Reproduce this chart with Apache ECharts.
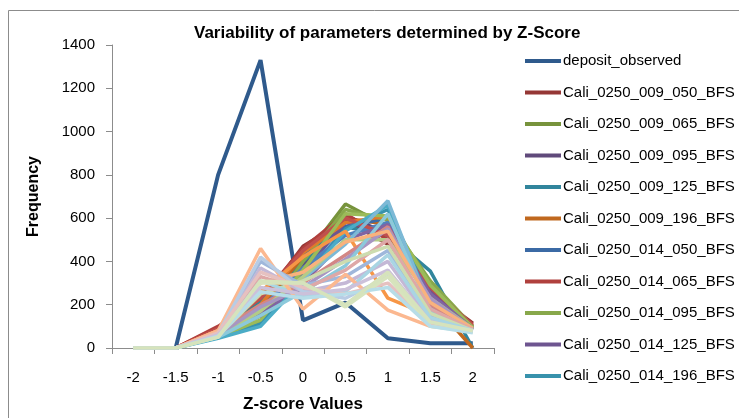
<!DOCTYPE html>
<html>
<head>
<meta charset="utf-8">
<script src="https://cdn.jsdelivr.net/npm/echarts@6/dist/echarts.min.js"></script>
<style>
html,body{margin:0;padding:0;background:#fff;}
#c{width:739px;height:418px;}
</style>
</head>
<body>
<div id="c"></div>
<script>
var categories = ['-2','-1.5','-1','-0.5','0','0.5','1','1.5','2'];
var yTicks = [0,200,400,600,800,1000,1200,1400];

var seriesNames = [
  'deposit_observed',
  'Cali_0250_009_050_BFS','Cali_0250_009_065_BFS','Cali_0250_009_095_BFS','Cali_0250_009_125_BFS','Cali_0250_009_196_BFS',
  'Cali_0250_014_050_BFS','Cali_0250_014_065_BFS','Cali_0250_014_095_BFS','Cali_0250_014_125_BFS','Cali_0250_014_196_BFS',
  'Cali_0250_019_050_BFS','Cali_0250_019_065_BFS','Cali_0250_019_095_BFS','Cali_0250_019_125_BFS','Cali_0250_019_196_BFS',
  'Cali_0250_024_050_BFS','Cali_0250_024_065_BFS','Cali_0250_024_095_BFS','Cali_0250_024_125_BFS','Cali_0250_024_196_BFS',
  'Cali_0250_029_050_BFS','Cali_0250_029_065_BFS','Cali_0250_029_095_BFS','Cali_0250_029_125_BFS','Cali_0250_029_196_BFS',
  'Cali_0250_034_050_BFS','Cali_0250_034_065_BFS','Cali_0250_034_095_BFS','Cali_0250_034_125_BFS','Cali_0250_034_196_BFS',
  'Cali_0250_039_050_BFS','Cali_0250_039_065_BFS','Cali_0250_039_095_BFS','Cali_0250_039_125_BFS','Cali_0250_039_196_BFS'
];

var deposit_observed = [0,0,800,1330,128,210,45,22,22];
var cali_009_050 = [0,0,95,210,470,590,480,260,115];
var cali_009_065 = [0,0,55,150,410,665,560,300,100];
var cali_009_095 = [0,0,65,170,380,610,530,270,95];
var cali_009_125 = [0,0,60,220,400,560,520,355,0];
var cali_009_196 = [0,0,85,190,420,600,570,220,0];
var cali_014_050 = [0,0,70,240,430,560,600,290,90];
var cali_014_065 = [0,0,100,230,460,620,500,250,110];
var cali_014_095 = [0,0,50,120,400,640,590,310,100];
var cali_014_125 = [0,0,60,160,350,580,540,260,90];
var cali_014_196 = [0,0,55,110,330,550,640,240,85];
var cali_019_050 = [0,0,80,200,440,580,610,200,90];
var cali_019_065 = [0,0,70,180,370,520,580,230,90];
var cali_019_095 = [0,0,90,230,450,600,520,280,105];
var cali_019_125 = [0,0,50,130,360,620,610,290,95];
var cali_019_196 = [0,0,60,150,300,500,570,250,90];
var cali_024_050 = [0,0,45,100,310,540,660,200,85];
var cali_024_065 = [0,0,80,260,420,540,230,150,85];
var cali_024_095 = [0,0,60,180,320,480,680,180,85];
var cali_024_125 = [0,0,75,200,300,430,560,200,85];
var cali_024_196 = [0,0,55,170,330,500,500,230,90];
var cali_029_050 = [0,0,60,190,280,410,550,230,85];
var cali_029_065 = [0,0,50,150,260,380,620,170,80];
var cali_029_095 = [0,0,80,300,350,490,540,210,90];
var cali_029_125 = [0,0,65,400,290,330,450,150,85];
var cali_029_196 = [0,0,75,330,270,360,500,180,85];
var cali_034_050 = [0,0,55,250,310,400,470,160,80];
var cali_034_065 = [0,0,60,370,260,300,400,130,80];
var cali_034_095 = [0,0,55,310,240,260,430,140,80];
var cali_034_125 = [0,0,80,460,180,340,175,100,80];
var cali_034_196 = [0,0,65,420,260,230,330,120,75];
var cali_039_050 = [0,0,70,350,280,250,300,110,80];
var cali_039_065 = [0,0,50,300,300,190,330,100,75];
var cali_039_095 = [0,0,60,280,250,270,360,120,75];
var cali_039_125 = [0,0,55,260,230,250,280,100,70];
var cali_039_196 = [0,0,50,310,300,200,350,120,80];

var seriesValues = [
  deposit_observed,
  cali_009_050,cali_009_065,cali_009_095,cali_009_125,cali_009_196,
  cali_014_050,cali_014_065,cali_014_095,cali_014_125,cali_014_196,
  cali_019_050,cali_019_065,cali_019_095,cali_019_125,cali_019_196,
  cali_024_050,cali_024_065,cali_024_095,cali_024_125,cali_024_196,
  cali_029_050,cali_029_065,cali_029_095,cali_029_125,cali_029_196,
  cali_034_050,cali_034_065,cali_034_095,cali_034_125,cali_034_196,
  cali_039_050,cali_039_065,cali_039_095,cali_039_125,cali_039_196
];

var colors = [
  '#2F5A8C',
  '#953735','#77933C','#604A7B','#31859C','#C0681E',
  '#3B6AA5','#B0403D','#88A84B','#6E5590','#3892AC',
  '#E07A2C','#4F81BD','#C0504D','#9BBB59','#8064A2',
  '#4BACC6','#F79646','#7DB9D6','#D38785','#B3CB87',
  '#A796C2','#8CC9DB','#F9B27D','#9FB7DB','#DEA8A7',
  '#CDDCAF','#C4B8D6','#A9D5E3','#FBB890','#B8CCE4',
  '#E6C1C0','#D7E4BD','#CCC1DA','#B7DDE8','#D6E3BC'
];

var legendNames = seriesNames.slice(0, 11);
var FONT = '"Liberation Sans Narrow","Arial Narrow","Liberation Sans",Arial,sans-serif';

var series = seriesNames.map(function(n, i){
  return {
    name: n,
    type: 'line',
    data: seriesValues[i],
    symbol: 'none',
    showSymbol: false,
    lineStyle: {width: i === 0 ? 4 : 3.5, color: colors[i]},
    itemStyle: {color: colors[i]},
    z: 2
  };
});

var chart = echarts.init(document.getElementById('c'), null, {renderer: 'canvas'});
chart.setOption({
  animation: false,
  backgroundColor: '#fff',
  color: colors,
  title: {
    text: 'Variability of parameters determined by Z-Score',
    left: 189, top: 20,
    textStyle: {fontFamily: FONT, fontWeight: 'bold', fontSize: 17, color: '#000'}
  },
  graphic: [{
    type: 'rect', silent: true, z: -1,
    shape: {x: 8.5, y: 10.5, width: 760, height: 440},
    style: {fill: 'none', stroke: '#8c8c8c', lineWidth: 1}
  }],
  legend: {
    orient: 'vertical',
    left: 520, top: 47,
    data: legendNames.map(function(n){ return {name: n, icon: 'rect'}; }),
    itemWidth: 36, itemHeight: 4, itemGap: 13.5,
    textStyle: {fontFamily: FONT, fontSize: 15, color: '#000', lineHeight: 18, padding: [0,0,0,-3]},
    selectedMode: false
  },
  grid: {left: 112, right: 245, top: 45, bottom: 68, containLabel: false},
  xAxis: {
    type: 'category',
    data: categories,
    boundaryGap: true,
    name: 'Z-score Values',
    nameLocation: 'middle',
    nameGap: 48,
    nameTextStyle: {fontFamily: FONT, fontWeight: 'bold', fontSize: 17, color: '#000'},
    axisLine: {lineStyle: {color: '#8c8c8c', width: 1}},
    axisTick: {show: true, interval: 0, length: 6, lineStyle: {color: '#8c8c8c'}},
    axisLabel: {fontFamily: FONT, fontSize: 15, color: '#000', margin: 22, interval: 0}
  },
  yAxis: {
    type: 'value',
    min: 0, max: 1400, interval: 200,
    name: 'Frequency',
    nameLocation: 'middle',
    nameRotate: 90,
    nameGap: 70,
    nameTextStyle: {fontFamily: FONT, fontWeight: 'bold', fontSize: 16, color: '#000'},
    axisLine: {show: true, lineStyle: {color: '#8c8c8c', width: 1}},
    axisTick: {show: true, length: 6, lineStyle: {color: '#8c8c8c'}},
    splitLine: {show: false},
    axisLabel: {fontFamily: FONT, fontSize: 15, color: '#000', margin: 17,
      formatter: function(v){ return yTicks.indexOf(v) >= 0 ? String(v) : ''; }}
  },
  series: series
});
</script>
</body>
</html>
